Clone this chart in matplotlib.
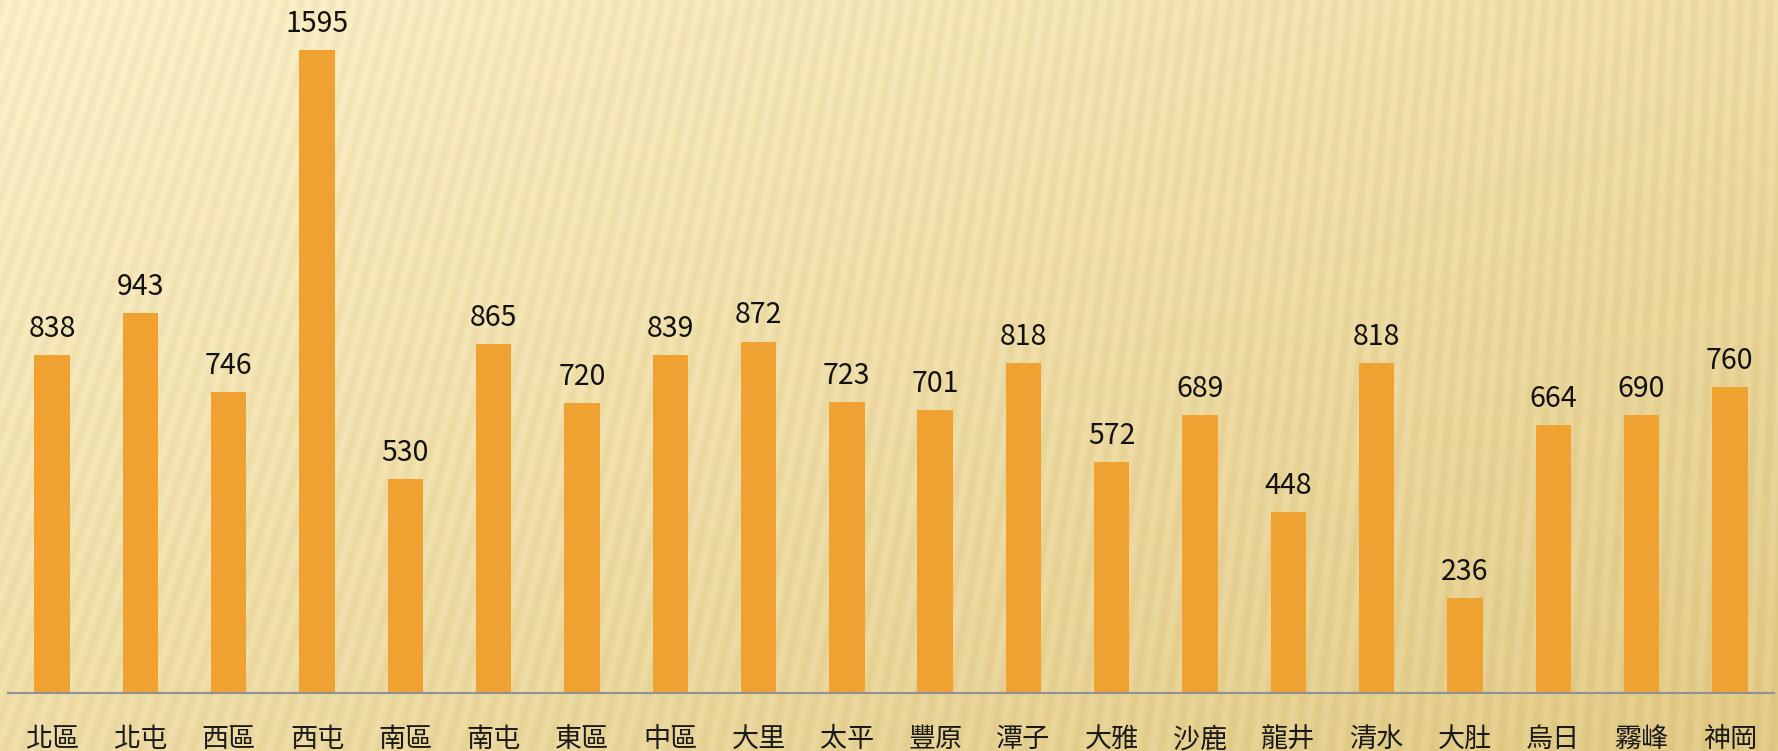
import numpy as np
import matplotlib
matplotlib.use("Agg")
import matplotlib.pyplot as plt

plt.rcParams['font.family'] = ['Noto Sans CJK TC', 'DejaVu Sans']

categories = ["北區", "北屯", "西區", "西屯", "南區", "南屯", "東區", "中區", "大里", "太平",
              "豐原", "潭子", "大雅", "沙鹿", "龍井", "清水", "大肚", "烏日", "霧峰", "神岡"]
values = [838, 943, 746, 1595, 530, 865, 720, 839, 872, 723,
          701, 818, 572, 689, 448, 818, 236, 664, 690, 760]

W, H = 1778, 751
fig = plt.figure(figsize=(W / 100, H / 100), dpi=100)

# background: golden gradient with slanted stripes
yy, xx = np.mgrid[0:H, 0:W].astype(float)
t = np.clip(0.5 * (xx / W) + 0.5 * (yy / H), 0, 1)
light = np.array([253, 243, 206]) / 255
dark = np.array([228, 206, 140]) / 255
img = light[None, None, :] * (1 - t[..., None]) + dark[None, None, :] * t[..., None]
slope = 0.32 * (1 - xx / W) + 0.04
u = xx - slope * (H - yy)
stripe = np.sin(2 * np.pi * u / 17.0)
amp = 0.045
img = img - amp * (stripe[..., None] * 0.5 + 0.5) * np.array([0.5, 0.8, 1.3])
img = np.clip(img, 0, 1)
bg = fig.add_axes([0, 0, 1, 1], zorder=0)
bg.imshow(img, aspect='auto', interpolation='bilinear')
bg.axis('off')

ax = fig.add_axes([8 / W, 58 / H, 1766 / W, 693 / H], zorder=1)
ax.patch.set_alpha(0)
x = np.arange(len(categories))
bars = ax.bar(x, values, width=0.4, color='#EFA231', zorder=2)
ax.set_xlim(-0.5, len(categories) - 0.5)
ax.set_ylim(0, 693 / 0.403)
for s in ['top', 'right', 'left']:
    ax.spines[s].set_visible(False)
ax.spines['bottom'].set_color('#8E9196')
ax.spines['bottom'].set_linewidth(1.5)
ax.set_yticks([])
ax.set_xticks(x)
ax.set_xticklabels(categories, fontsize=19.5, color='#1a1a1a', fontweight='light')
ax.tick_params(axis='x', length=0, pad=24)
for xi, v in zip(x, values):
    ax.annotate(str(v), (xi, v), xytext=(0, 8), textcoords='offset points',
                ha='center', va='bottom', fontsize=20.5, color='#111111',
                fontweight='light')

fig.savefig('out.png', dpi=100)
